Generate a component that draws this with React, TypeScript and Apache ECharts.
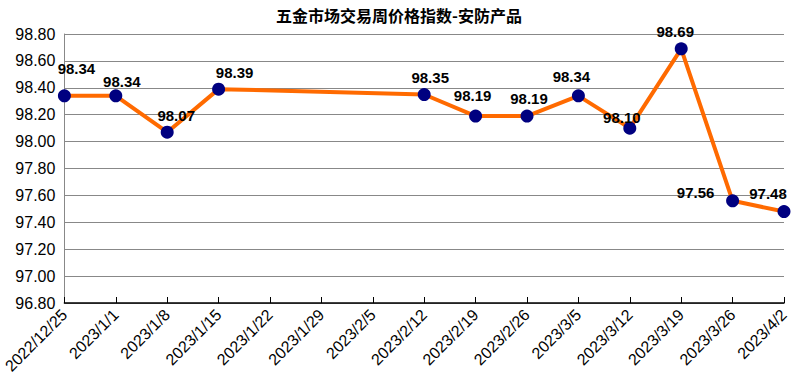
import React, { useEffect, useRef } from "react";
import * as echarts from "echarts";

const titleText = "五金市场交易周价格指数-安防产品";
const categories = [
  "2022/12/25", "2023/1/1", "2023/1/8", "2023/1/15", "2023/1/22", "2023/1/29", "2023/2/5",
  "2023/2/12", "2023/2/19", "2023/2/26", "2023/3/5", "2023/3/12", "2023/3/19", "2023/3/26", "2023/4/2",
];
const values: (number | null)[] = [
  98.34, 98.34, 98.07, 98.39, null, null, null, 98.35, 98.19, 98.19, 98.34, 98.10, 98.69, 97.56, 97.48,
];
const labelOffsets: number[][] = [
  [12, -27], [6, -14], [9, -17], [16, -17], [0, 0], [0, 0], [0, 0],
  [6, -17], [-3, -21], [2, -18], [-7, -19], [-8, -11], [-6, -17], [-37, -8], [-16, -18],
];

export default function App() {
  const ref = useRef<HTMLDivElement>(null);
  useEffect(() => {
    if (!ref.current) return;
    const chart = echarts.init(ref.current, undefined, { renderer: "svg" });
    const data = values.map((v, i) =>
      v === null
        ? null
        : {
            value: v,
            label: { offset: labelOffsets[i] },
          }
    );
    chart.setOption({
      animation: false,
      backgroundColor: "#ffffff",
      title: {
        text: titleText,
        left: "center",
        top: 2,
        textStyle: {
          fontFamily: "Noto Sans CJK SC",
          fontSize: 16,
          fontWeight: "bold",
          color: "#000",
        },
      },
      grid: { left: 62, right: 14, top: 34, bottom: 80, containLabel: false },
      xAxis: {
        type: "category",
        data: categories,
        boundaryGap: false,
        axisLine: { lineStyle: { color: "#000", width: 1.5 } },
        axisTick: { inside: true, length: 6, lineStyle: { color: "#000" } },
        axisLabel: {
          rotate: 45,
          interval: 0,
          fontFamily: "Liberation Sans, Arial",
          fontSize: 16,
          color: "#000",
          margin: 9,
        },
        splitLine: { show: false },
      },
      yAxis: {
        type: "value",
        min: 96.8,
        max: 98.8,
        interval: 0.2,
        axisLine: { show: true, lineStyle: { color: "#888" } },
        axisTick: { show: false },
        axisLabel: {
          formatter: (v: number) => v.toFixed(2),
          fontFamily: "Liberation Sans, Arial",
          fontSize: 16,
          color: "#000",
          margin: 9,
        },
        splitLine: { lineStyle: { color: "#888", width: 1 } },
      },
      series: [
        {
          type: "line",
          data,
          connectNulls: true,
          symbol: "circle",
          symbolSize: 13,
          lineStyle: { color: "#ff6a00", width: 4 },
          itemStyle: { color: "#000080" },
          label: {
            show: true,
            position: "inside",
            formatter: (p: any) => Number(p.value).toFixed(2),
            fontFamily: "Liberation Sans, Arial",
            fontSize: 15,
            fontWeight: "bold",
            color: "#000",
          },
        },
      ],
    });
    return () => chart.dispose();
  }, []);
  return <div ref={ref} style={{ width: 798, height: 383, position: "absolute", left: 0, top: 0 }} />;
}
